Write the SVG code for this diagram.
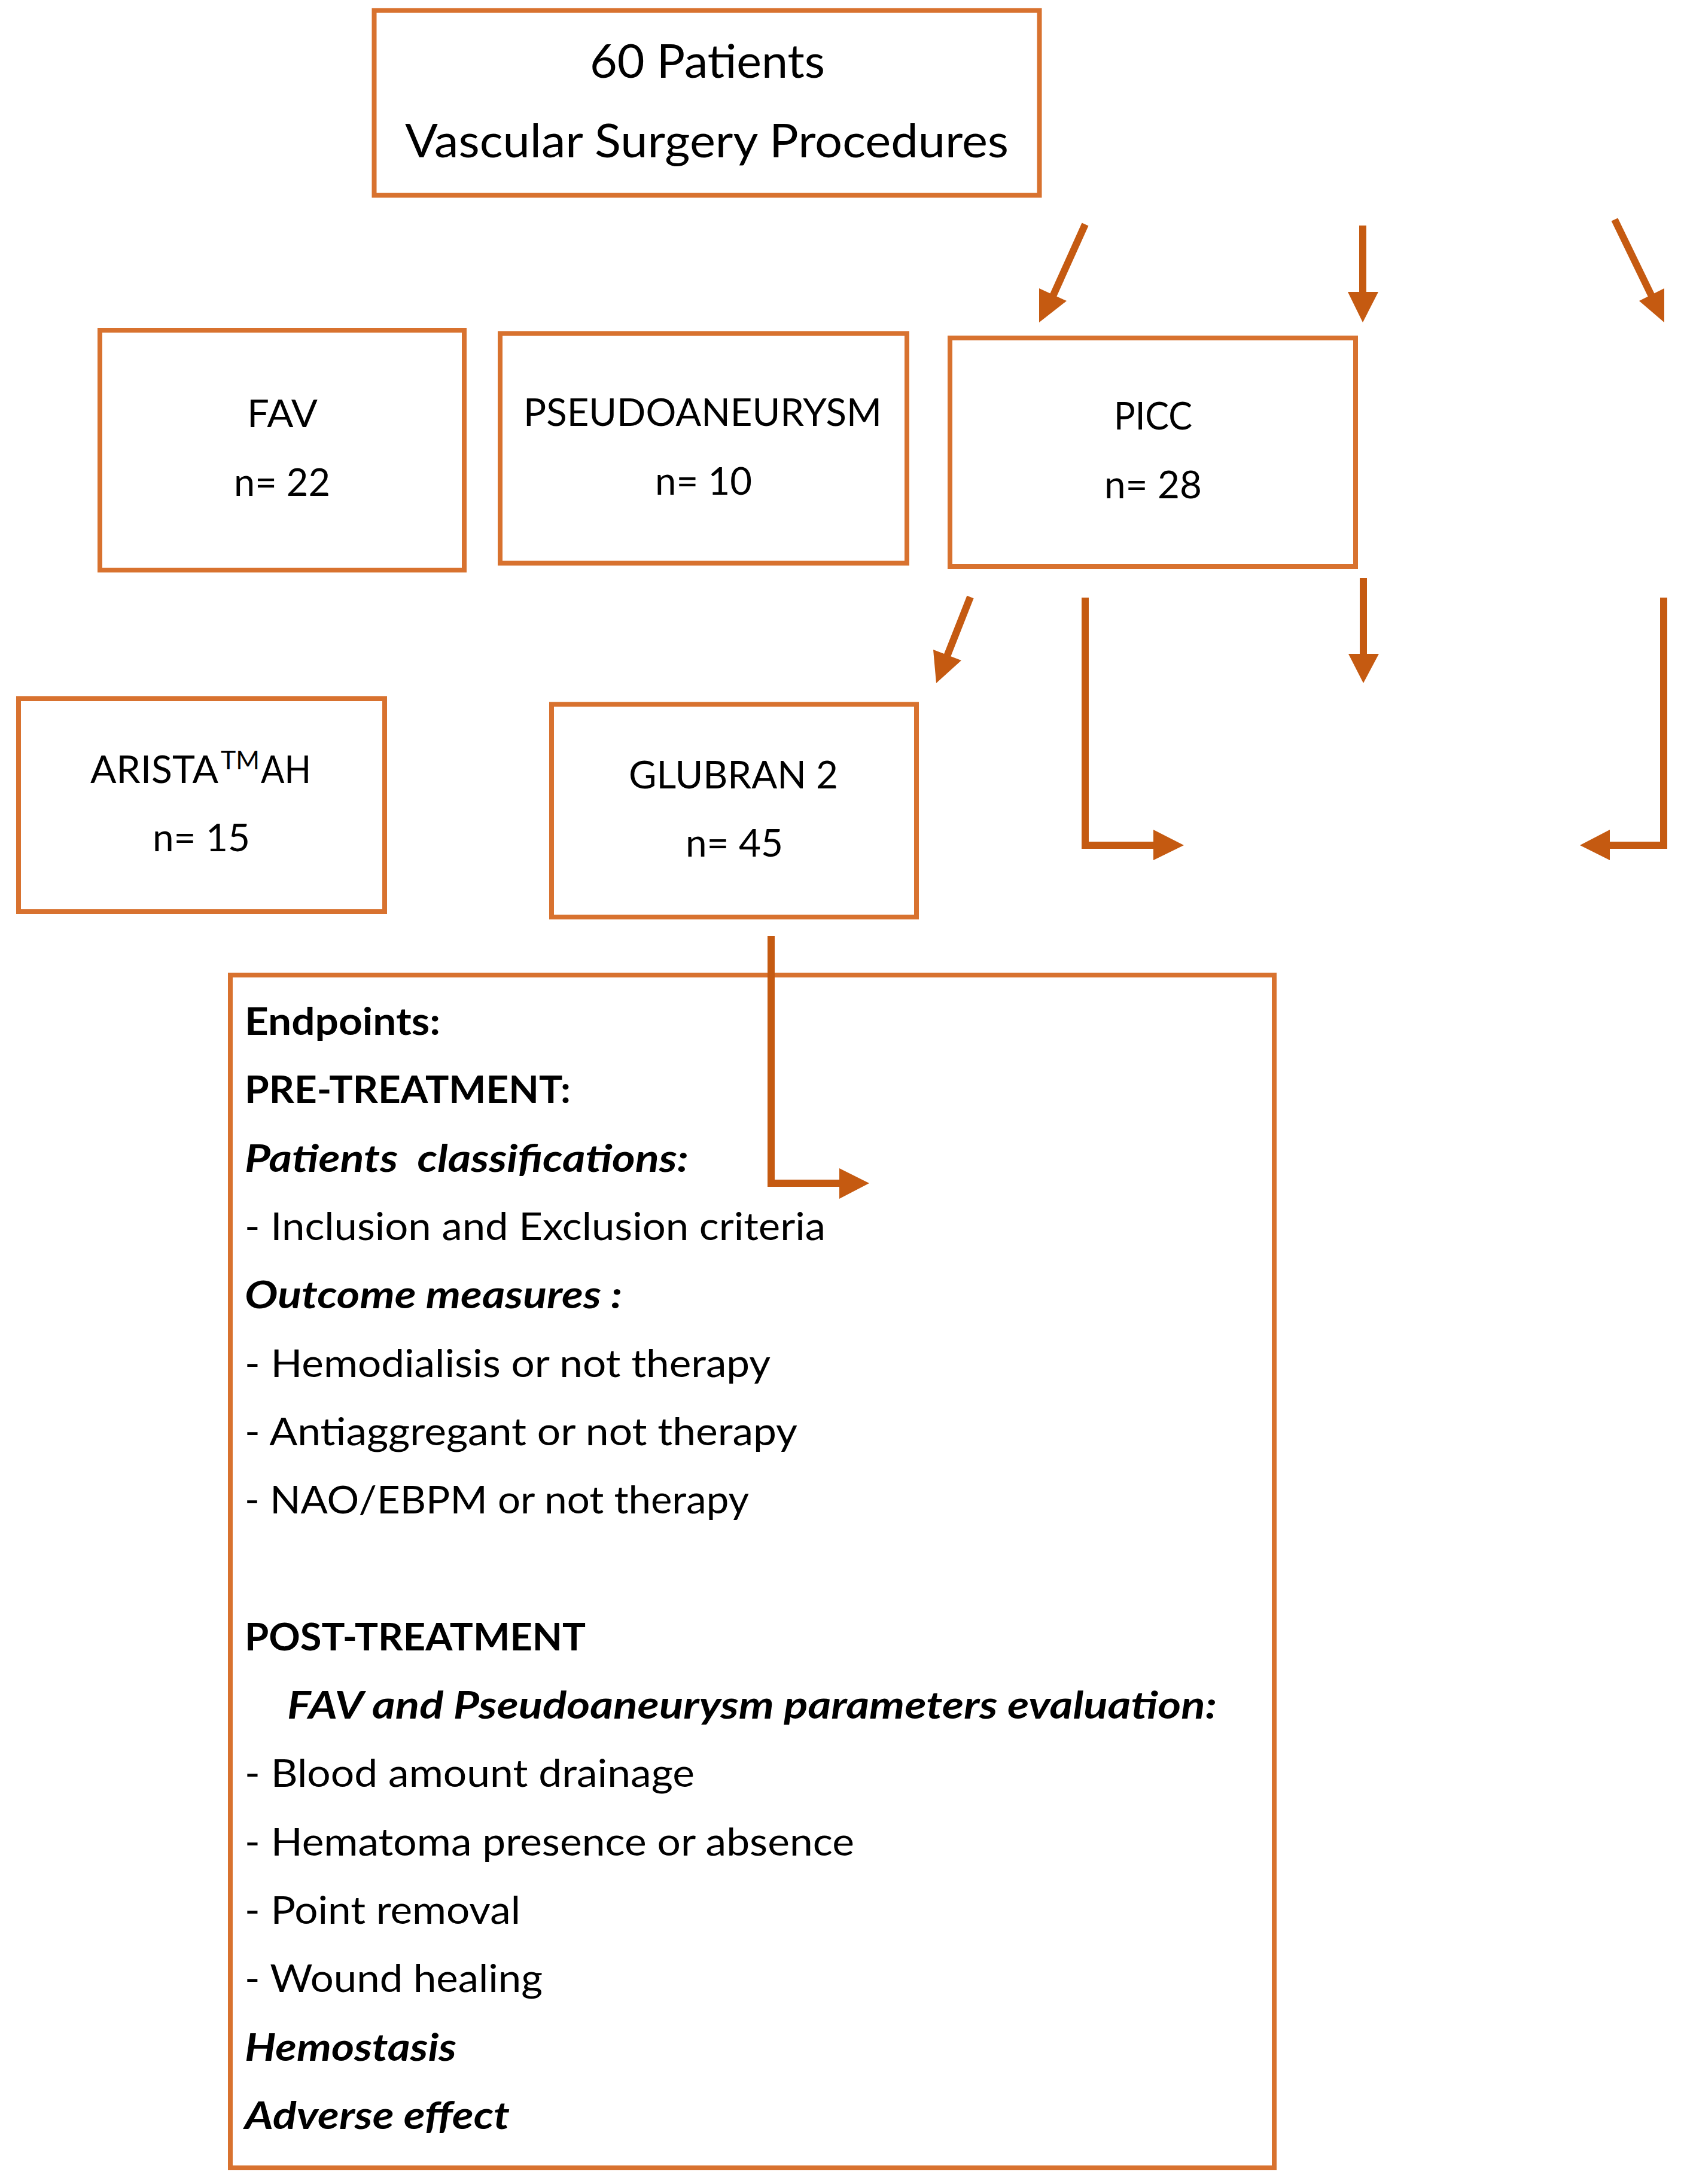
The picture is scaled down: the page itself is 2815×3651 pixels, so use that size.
<svg xmlns="http://www.w3.org/2000/svg" width="2815" height="3651" viewBox="0 0 2815 3651">
<style>
.box{fill:#fff;stroke:#D8722F;stroke-width:8}
.t{font-family:Lato,"Liberation Sans",sans-serif;fill:#000;font-size:64px}
.big{font-size:77px}
.b{font-weight:bold}
.bi{font-weight:bold;font-style:italic}
.c{fill:none;stroke:#C55A11;stroke-width:12}
.h{fill:#C55A11}
</style>
<rect x="0" y="0" width="2815" height="3651" fill="#fff"/>
<g id="top">
<rect class="box" x="625.5" y="17.5" width="1112" height="309" stroke-width="9"/>
<text class="t big" x="986" y="130" textLength="393" lengthAdjust="spacingAndGlyphs">60 Patients</text>
<text class="t big" x="677" y="263" textLength="1009" lengthAdjust="spacingAndGlyphs">Vascular Surgery Procedures</text>
</g>
<g id="fav">
<rect class="box" x="167" y="552" width="609" height="401"/>
<text class="t" x="413" y="714" textLength="118" lengthAdjust="spacingAndGlyphs">FAV</text>
<text class="t" x="391" y="829" textLength="161" lengthAdjust="spacingAndGlyphs">n= 22</text>
</g>
<g id="pseudo">
<rect class="box" x="836" y="557.5" width="680" height="384"/>
<text class="t" x="875" y="712" textLength="599" lengthAdjust="spacingAndGlyphs">PSEUDOANEURYSM</text>
<text class="t" x="1095" y="827" textLength="162" lengthAdjust="spacingAndGlyphs">n= 10</text>
</g>
<g id="picc">
<rect class="box" x="1588" y="565" width="678" height="382"/>
<text class="t" x="1862" y="718" textLength="131" lengthAdjust="spacingAndGlyphs">PICC</text>
<text class="t" x="1846" y="833" textLength="163" lengthAdjust="spacingAndGlyphs">n= 28</text>
</g>
<g id="arista">
<rect class="box" x="31" y="1168" width="612" height="356"/>
<text class="t"><tspan x="151" y="1309" textLength="214" lengthAdjust="spacingAndGlyphs">ARISTA</tspan><tspan x="369" y="1286" font-size="43" textLength="65" lengthAdjust="spacingAndGlyphs">TM</tspan><tspan x="436" y="1309" textLength="84" lengthAdjust="spacingAndGlyphs">AH</tspan></text>
<text class="t" x="255" y="1423" textLength="163" lengthAdjust="spacingAndGlyphs">n= 15</text>
</g>
<g id="glubran">
<rect class="box" x="922" y="1177.5" width="610" height="355.5"/>
<text class="t" x="1051" y="1318" textLength="350" lengthAdjust="spacingAndGlyphs">GLUBRAN 2</text>
<text class="t" x="1146" y="1432" textLength="163" lengthAdjust="spacingAndGlyphs">n= 45</text>
</g>
<g id="endpoints">
<rect class="box" x="385" y="1630" width="1745" height="1994"/>
<text class="t b" x="409" y="1730" textLength="327" lengthAdjust="spacingAndGlyphs">Endpoints:</text>
<text class="t b" x="409" y="1844" textLength="545" lengthAdjust="spacingAndGlyphs">PRE-TREATMENT:</text>
<text class="t bi" x="409" y="1959" textLength="742" lengthAdjust="spacingAndGlyphs" xml:space="preserve">Patients  classifications:</text>
<text class="t" x="409" y="2073" textLength="971" lengthAdjust="spacingAndGlyphs">- Inclusion and Exclusion criteria</text>
<text class="t bi" x="409" y="2187" textLength="631" lengthAdjust="spacingAndGlyphs">Outcome measures :</text>
<text class="t" x="409" y="2302" textLength="879" lengthAdjust="spacingAndGlyphs">- Hemodialisis or not therapy</text>
<text class="t" x="409" y="2416" textLength="924" lengthAdjust="spacingAndGlyphs">- Antiaggregant or not therapy</text>
<text class="t" x="409" y="2530" textLength="843" lengthAdjust="spacingAndGlyphs">- NAO/EBPM or not therapy</text>
<text class="t b" x="409" y="2759" textLength="570" lengthAdjust="spacingAndGlyphs">POST-TREATMENT</text>
<text class="t bi" x="480" y="2873" textLength="1554" lengthAdjust="spacingAndGlyphs">FAV and Pseudoaneurysm parameters evaluation:</text>
<text class="t" x="409" y="2987" textLength="752" lengthAdjust="spacingAndGlyphs">- Blood amount drainage</text>
<text class="t" x="409" y="3102" textLength="1019" lengthAdjust="spacingAndGlyphs">- Hematoma presence or absence</text>
<text class="t" x="409" y="3216" textLength="461" lengthAdjust="spacingAndGlyphs">- Point removal</text>
<text class="t" x="409" y="3330" textLength="498" lengthAdjust="spacingAndGlyphs">- Wound healing</text>
<text class="t bi" x="409" y="3445" textLength="354" lengthAdjust="spacingAndGlyphs">Hemostasis</text>
<text class="t bi" x="409" y="3559" textLength="443" lengthAdjust="spacingAndGlyphs">Adverse effect</text>
</g>
<g id="connectors">
<line class="c" x1="1814" y1="375" x2="1760" y2="495"/>
<polygon class="h" points="1737,482 1783,503 1737,539"/>
<line class="c" x1="2278" y1="377" x2="2278" y2="492"/>
<polygon class="h" points="2253,488 2304,488 2278,539"/>
<line class="c" x1="2699" y1="367" x2="2761" y2="495"/>
<polygon class="h" points="2740,503 2782,482 2782,539"/>
<line class="c" x1="1622" y1="998" x2="1583" y2="1097"/>
<polygon class="h" points="1560,1086 1607,1104 1565,1142"/>
<path class="c" d="M1814,999 V1413 H1930"/>
<polygon class="h" points="1928,1387 1928,1438 1979,1413"/>
<line class="c" x1="2279" y1="966" x2="2279" y2="1097"/>
<polygon class="h" points="2254,1093 2305,1093 2279,1142"/>
<path class="c" d="M2781,999 V1413 H2690"/>
<polygon class="h" points="2691,1387 2691,1438 2641,1413"/>
<path class="c" d="M1289,1565 V1978 H1405"/>
<polygon class="h" points="1403,1953 1403,2004 1453,1978"/>
</g>
</svg>
